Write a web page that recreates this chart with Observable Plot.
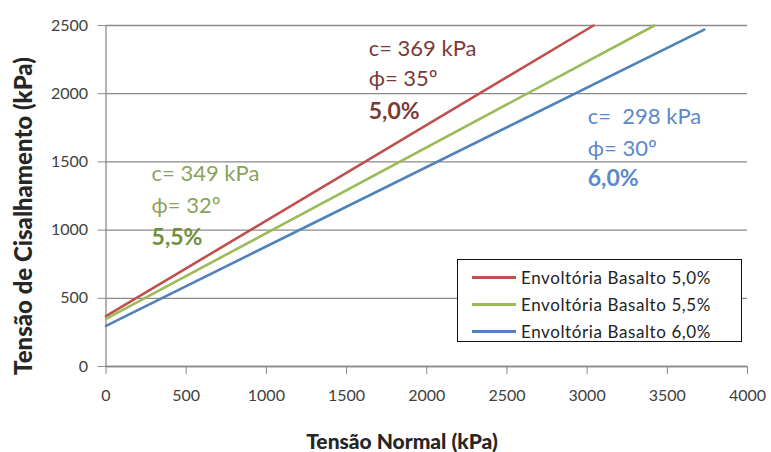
<!DOCTYPE html>
<html><head><meta charset="utf-8">
<script src="https://cdn.jsdelivr.net/npm/d3@7"></script>
<script src="https://cdn.jsdelivr.net/npm/@observablehq/plot@0.6"></script>
<style>
body{margin:0;background:#fff;font-family:Lato,"Open Sans",sans-serif;}
#wrap{position:relative;width:771px;height:452px;}
#legend{position:absolute;left:457px;top:259px;width:285px;height:83px;border:1.5px solid #111;background:#fff;box-sizing:border-box;padding-top:4px;}
.row{display:flex;align-items:center;height:27px;font-size:17px;letter-spacing:0.6px;color:#222;}
.sw{width:44px;height:3px;margin-left:14px;margin-right:5px;}
.ttl{position:absolute;font-weight:900;color:#262626;white-space:nowrap;}
#ytitle{left:22px;top:216px;transform:translate(-50%,-50%) rotate(-90deg);font-size:24px;}
#xtitle{left:402px;top:440px;transform:translate(-50%,-50%);font-size:21px;}
</style></head>
<body><div id="wrap"></div>
<script>
// Series
const seriesNames = ["Envoltória Basalto 5,0%", "Envoltória Basalto 5,5%", "Envoltória Basalto 6,0%"];
const colors = ["#c0504d", "#9bbb59", "#4f81bd"];
const xStart = [0, 0, 0];
const yStart = [369, 349, 298];
const xEnd = [3040, 3420, 3730];
const yEnd = [2500, 2500, 2470];
// Ticks
const xTicks = [0, 500, 1000, 1500, 2000, 2500, 3000, 3500, 4000];
const yTicks = [0, 500, 1000, 1500, 2000, 2500];
// Annotations
const annC = ["c= 369 kPa", "c= 349 kPa", "c=\u00a0\u00a0298 kPa"];
const annPhi = ["ϕ= 35º", "ϕ= 32º", "ϕ= 30º"];
const annPct = ["5,0%", "5,5%", "6,0%"];
const annX = [1638, 284, 3004];
const annYc = [2331, 1415, 1826];
const annYphi = [2111, 1180, 1598];
const annYpct = [1870, 946, 1378];
const annColor = ["#7a3a38", "#8aa35b", "#5a88cc"];
const pctColor = ["#7a3a38", "#6f8f3e", "#5a88cc"];

const lines = [];
seriesNames.forEach((s, i) => {
  lines.push({series: s, x: xStart[i], y: yStart[i]});
  lines.push({series: s, x: xEnd[i], y: yEnd[i]});
});
const ann = annC.map((c, i) => ({c, phi: annPhi[i], pct: annPct[i], x: annX[i], yc: annYc[i], yphi: annYphi[i], ypct: annYpct[i], col: annColor[i], pcol: pctColor[i]}));

const chart = Plot.plot({
  width: 771, height: 452,
  marginLeft: 105.5, marginRight: 24, marginTop: 25, marginBottom: 86,
  style: {fontFamily: "Lato, 'Open Sans', sans-serif", background: "#fff"},
  x: {domain: [0, 4000]},
  y: {domain: [0, 2500]},
  color: {domain: seriesNames, range: colors},
  marks: [
    Plot.gridY(yTicks, {stroke: "#8a8a8a", strokeOpacity: 1, strokeWidth: 1.3}),
    Plot.ruleX([0], {stroke: "#8a8a8a", strokeWidth: 1.3}),
    Plot.ruleY([0], {stroke: "#8a8a8a", strokeWidth: 1.3}),
    Plot.axisX({ticks: xTicks, tickFormat: d => String(d), tickSize: 8, tickPadding: 15, fontSize: 16, stroke: "#8a8a8a", fill: "#404040", label: null}),
    Plot.axisY({ticks: yTicks, tickFormat: d => String(d), tickSize: 8, tickPadding: 10, fontSize: 16, stroke: "#8a8a8a", fill: "#404040", label: null}),
    Plot.line(lines, {x: "x", y: "y", z: "series", stroke: "series", strokeWidth: 2.6}),
    Plot.text(ann, {x: "x", y: "yc", text: "c", fill: "col", fontSize: 22, textAnchor: "start"}),
    Plot.text(ann, {x: "x", y: "yphi", text: "phi", fill: "col", fontSize: 22, textAnchor: "start"}),
    Plot.text(ann, {x: "x", y: "ypct", text: "pct", fill: "pcol", fontSize: 23, fontWeight: "bold", textAnchor: "start"})
  ]
});
const wrap = document.getElementById("wrap");
wrap.appendChild(chart);

const yt = document.createElement("div"); yt.id = "ytitle"; yt.className = "ttl";
yt.textContent = "Tensão de Cisalhamento (kPa)"; wrap.appendChild(yt);
const xt = document.createElement("div"); xt.id = "xtitle"; xt.className = "ttl";
xt.textContent = "Tensão Normal (kPa)"; wrap.appendChild(xt);

const lg = document.createElement("div"); lg.id = "legend";
seriesNames.forEach((s, i) => {
  const r = document.createElement("div"); r.className = "row";
  const sw = document.createElement("span"); sw.className = "sw"; sw.style.background = colors[i];
  const t = document.createElement("span"); t.textContent = s;
  r.appendChild(sw); r.appendChild(t); lg.appendChild(r);
});
wrap.appendChild(lg);
</script></body></html>
